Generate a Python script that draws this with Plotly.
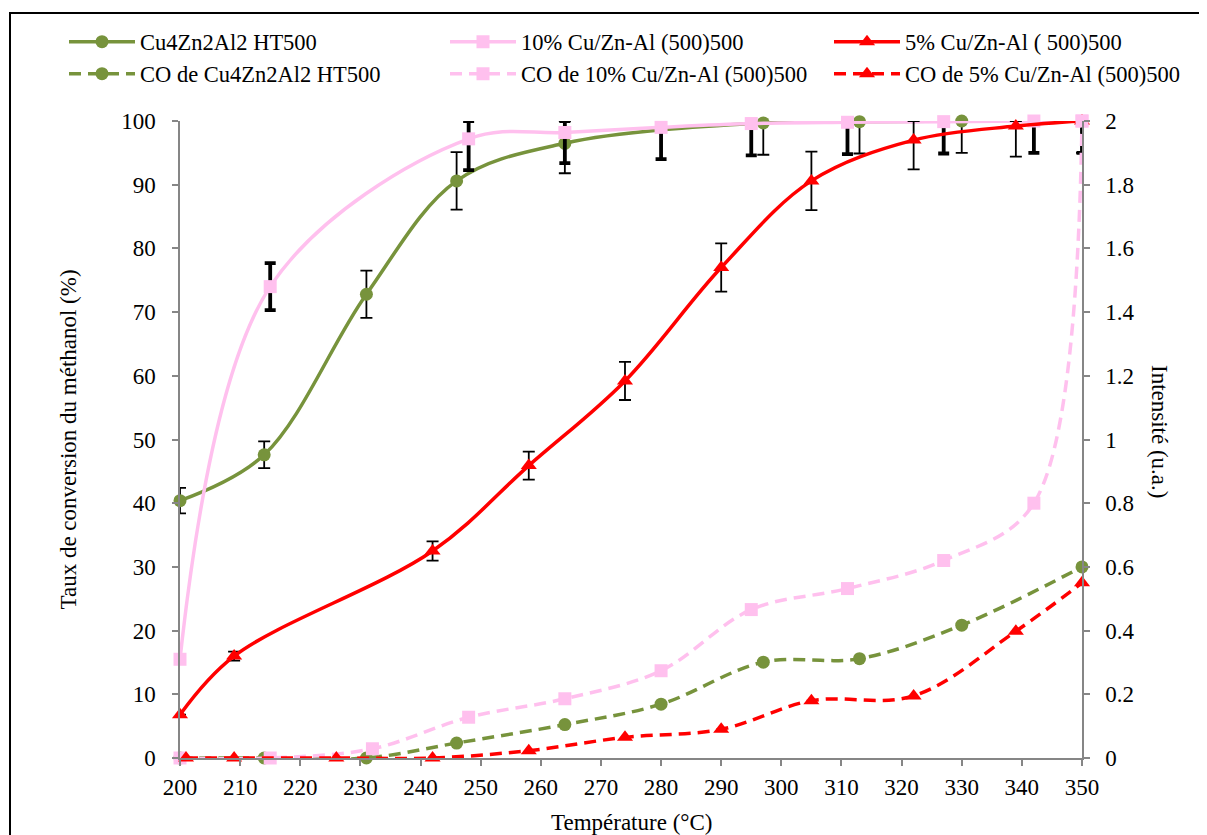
import plotly.graph_objects as go

# ---------------- data ----------------
temp_cu4 = [200, 214, 231, 246, 264, 297, 313, 330]
conv_cu4 = [40.4, 47.6, 72.8, 90.6, 96.5, 99.7, 99.9, 100]
err_cu4 = [2.0, 2.1, 3.7, 4.5, 4.7, 5.0, 5.0, 5.0]

temp_10 = [200, 215, 248, 264, 280, 295, 311, 327, 342, 350]
conv_10 = [15.5, 74.0, 97.2, 98.2, 99.0, 99.6, 99.8, 99.9, 100, 100]
err_10 = [0, 3.7, 4.9, 4.8, 5.0, 5.0, 5.0, 5.0, 5.0, 5.0]

temp_5 = [200, 209, 242, 258, 274, 290, 305, 322, 339, 350]
conv_5 = [6.8, 16.0, 32.5, 45.9, 59.2, 77.0, 90.6, 97.0, 99.2, 100]
err_5 = [0, 0.7, 1.5, 2.2, 3.0, 3.8, 4.6, 4.6, 4.8, 5.0]

temp_co_cu4 = [200, 214, 231, 246, 264, 280, 297, 313, 330, 350]
co_cu4 = [0, 0, 0, 0.047, 0.105, 0.169, 0.301, 0.312, 0.417, 0.60]

temp_co_10 = [200, 215, 232, 248, 264, 280, 295, 311, 327, 342, 350]
co_10 = [0, 0, 0.029, 0.128, 0.186, 0.274, 0.466, 0.532, 0.62, 0.80, 2.0]

temp_co_5 = [201, 209, 226, 242, 258, 274, 290, 305, 322, 339, 350]
co_5 = [0, 0, 0, 0, 0.023, 0.065, 0.09, 0.18, 0.195, 0.398, 0.55]

names = ["Cu4Zn2Al2 HT500", "10% Cu/Zn-Al (500)500", "5% Cu/Zn-Al ( 500)500",
         "CO de Cu4Zn2Al2 HT500", "CO de 10% Cu/Zn-Al (500)500", "CO de 5% Cu/Zn-Al (500)500"]

OLIVE = "#77933C"
PINK = "#FFC0EE"
RED = "#FF0000"
FONT = "Liberation Serif"
YMAX = 100

# page offset (body margin) and figure geometry
OFF = 8
W, H = 1199, 827
PL, PR, PT, PB = 180, 1082, 121, 758          # plot area in page pixels
L, R, T, B = PL - OFF, W - (PR - OFF), PT - OFF, H - (PB - OFF)
pw, ph = W - L - R, H - T - B


def px_x(px):       # page px -> paper x
    return (px - OFF - L) / pw


def px_y(py):       # page px -> paper y
    return (H - B - (py - OFF)) / ph


def cx(px):         # page px -> container x
    return (px - OFF) / W


def cy(py):         # page px -> container y
    return 1 - (py - OFF) / H


def err_plus(vals, errs):
    return [min(e, YMAX - v) for v, e in zip(vals, errs)]


fig = go.Figure()


def conv_trace(x, y, e, name, color, symbol, size, thick, width, leg):
    return go.Scatter(
        x=x, y=y, name=name, mode="lines+markers",
        line=dict(color=color, width=3.5, shape="spline", smoothing=1.0),
        marker=dict(color=color, symbol=symbol, size=size),
        error_y=dict(type="data", symmetric=False, array=err_plus(y, e), arrayminus=e,
                     color="black", thickness=thick, width=width),
        cliponaxis=False, legend=leg, showlegend=True,
    )


def co_trace(x, y, name, color, symbol, size, leg):
    return go.Scatter(
        x=x, y=y, name=name, mode="lines+markers", yaxis="y2",
        line=dict(color=color, width=3.5, shape="spline", smoothing=1.0, dash="12px,7px"),
        marker=dict(color=color, symbol=symbol, size=size),
        cliponaxis=False, legend=leg, showlegend=True,
    )


fig.add_trace(conv_trace(temp_cu4, conv_cu4, err_cu4, names[0], OLIVE, "circle", 13, 1.8, 6, "legend"))
fig.add_trace(conv_trace(temp_10, conv_10, err_10, names[1], PINK, "square", 13, 3.8, 5.5, "legend2"))
fig.add_trace(conv_trace(temp_5, conv_5, err_5, names[2], RED, "triangle-up", 14, 1.8, 6, "legend3"))
fig.add_trace(co_trace(temp_co_cu4, co_cu4, names[3], OLIVE, "circle", 13, "legend4"))
fig.add_trace(co_trace(temp_co_10, co_10, names[4], PINK, "square", 13, "legend5"))
fig.add_trace(co_trace(temp_co_5, co_5, names[5], RED, "triangle-up", 14, "legend6"))

axis_common = dict(showline=True, linecolor="#868686", linewidth=1.5, ticks="outside",
                   ticklen=6, tickcolor="#868686", tickwidth=1.5, showgrid=False,
                   zeroline=False, tickfont=dict(family=FONT, size=23, color="black"))


def leg(xp, yp):
    return dict(orientation="h", font=dict(family=FONT, size=22.5, color="black"),
                itemwidth=66, xref="container", yref="container",
                x=cx(xp), y=cy(yp), xanchor="left", yanchor="middle",
                bgcolor="rgba(0,0,0,0)", itemclick=False, itemdoubleclick=False)


col_x = [64, 445, 829]
row_y = [42, 74]
title_font = dict(family=FONT, size=23, color="black")

fig.update_layout(
    width=W, height=H,
    showlegend=True,
    margin=dict(l=L, r=R, t=T, b=B, autoexpand=False),
    paper_bgcolor="white", plot_bgcolor="white",
    font=dict(family=FONT, size=22, color="black"),
    xaxis=dict(range=[200, 350], dtick=10, tick0=200, ticklabelstandoff=2, **axis_common),
    yaxis=dict(range=[0, 100], dtick=10, ticklabelstandoff=12, **axis_common),
    yaxis2=dict(range=[0, 2], dtick=0.2, overlaying="y", side="right",
                ticklabelstandoff=11, **axis_common),
    legend=leg(col_x[0], row_y[0]),
    legend2=leg(col_x[1], row_y[0]),
    legend3=leg(col_x[2], row_y[0]),
    legend4=leg(col_x[0], row_y[1]),
    legend5=leg(col_x[1], row_y[1]),
    legend6=leg(col_x[2], row_y[1]),
    annotations=[
        dict(text="Température (°C)", xref="paper", yref="paper", x=0.5, y=px_y(823),
             xanchor="center", yanchor="middle", showarrow=False, font=title_font),
        dict(text="Taux de conversion du méthanol (%)", xref="paper", yref="paper",
             x=px_x(68), y=0.5, xanchor="center", yanchor="middle", textangle=-90,
             showarrow=False, font=title_font),
        dict(text="Intensité (u.a.)", xref="paper", yref="paper",
             x=px_x(1160), y=px_y(431), xanchor="center", yanchor="middle", textangle=90,
             showarrow=False, font=title_font),
    ],
    shapes=[
        dict(type="rect", xref="paper", yref="paper", x0=px_x(10), x1=px_x(1205),
             y0=px_y(845), y1=px_y(13), line=dict(color="black", width=2),
             fillcolor="rgba(0,0,0,0)", layer="below"),
    ],
)

fig.write_html("out.html")
